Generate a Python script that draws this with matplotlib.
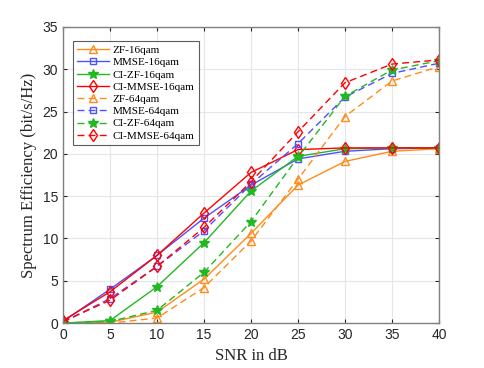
import matplotlib
matplotlib.use("Agg")
import matplotlib.pyplot as plt

snr = [0, 5, 10, 15, 20, 25, 30, 35, 40]

zf_16 = [0.0, 0.1, 1.3, 5.2, 10.6, 16.3, 19.1, 20.3, 20.6]
mmse_16 = [0.2, 4.0, 8.0, 12.4, 16.3, 19.4, 20.3, 20.6, 20.7]
cizf_16 = [0.0, 0.3, 4.3, 9.5, 15.6, 19.7, 20.6, 20.7, 20.7]
cimmse_16 = [0.3, 3.7, 8.0, 13.0, 17.8, 20.5, 20.7, 20.7, 20.7]
zf_64 = [0.0, 0.0, 0.6, 4.2, 9.7, 17.0, 24.4, 28.6, 30.3]
mmse_64 = [0.1, 2.9, 6.7, 10.9, 16.4, 21.2, 26.7, 29.5, 30.7]
cizf_64 = [0.0, 0.2, 1.5, 6.0, 12.0, 19.6, 26.8, 29.9, 31.0]
cimmse_64 = [0.2, 2.7, 6.7, 11.3, 16.7, 22.6, 28.4, 30.6, 31.1]

labels = ["ZF-16qam", "MMSE-16qam", "CI-ZF-16qam", "CI-MMSE-16qam",
          "ZF-64qam", "MMSE-64qam", "CI-ZF-64qam", "CI-MMSE-64qam"]
xticks = [0, 5, 10, 15, 20, 25, 30, 35, 40]
yticks = [0, 5, 10, 15, 20, 25, 30, 35]

orange = "#FF8C1A"
blue = "#5050FF"
green = "#22B822"
red = "#FF0000"

fig = plt.figure(figsize=(4.85, 3.68), dpi=100)
ax = fig.add_axes([0.130, 0.122, 0.775, 0.805])

series = [
    (zf_16, orange, "-", "^", "none"),
    (mmse_16, blue, "-", "s", "none"),
    (cizf_16, green, "-", "*", green),
    (cimmse_16, red, "-", "d", "none"),
    (zf_64, orange, "--", "^", "none"),
    (mmse_64, blue, "--", "s", "none"),
    (cizf_64, green, "--", "*", green),
    (cimmse_64, red, "--", "d", "none"),
]
sizes = {"^": 6, "s": 4.5, "*": 7.5, "d": 6.5}
for (vals, c, ls, m, fc), lab in zip(series, labels):
    ax.plot(snr, vals, color=c, linestyle=ls, marker=m, markerfacecolor=fc,
            markeredgecolor=c, markersize=sizes[m], linewidth=1.0,
            markeredgewidth=1.0, label=lab,
            dashes=(5, 3) if ls == "--" else (None, None))

ax.set_xlim(0, 40)
ax.set_ylim(0, 35)
ax.set_xticks(xticks)
ax.set_yticks(yticks)
ax.tick_params(direction="in", length=3, labelsize=10, colors="#262626",
               top=True, right=True)
for lab in ax.get_xticklabels() + ax.get_yticklabels():
    lab.set_family("Liberation Sans")
ax.grid(True, color="#E6E6E6", linewidth=0.8)
ax.set_axisbelow(True)
for s in ax.spines.values():
    s.set_color("#808080")
    s.set_linewidth(1.0)

ax.set_xlabel("SNR in dB", family="Liberation Serif", fontsize=12, color="#262626")
ax.set_ylabel("Spectrum Efficiency (bit/s/Hz)", family="Liberation Serif",
              fontsize=12, color="#262626")

leg = ax.legend(loc="upper left", bbox_to_anchor=(0.02, 0.96),
                prop={"family": "Liberation Serif", "size": 8},
                frameon=True, fancybox=False, edgecolor="#333333",
                borderpad=0.4, labelspacing=0.22, handlelength=2.9,
                handletextpad=0.3, borderaxespad=0.2)
leg.get_frame().set_linewidth(0.8)

fig.savefig("out.png", dpi=100)
